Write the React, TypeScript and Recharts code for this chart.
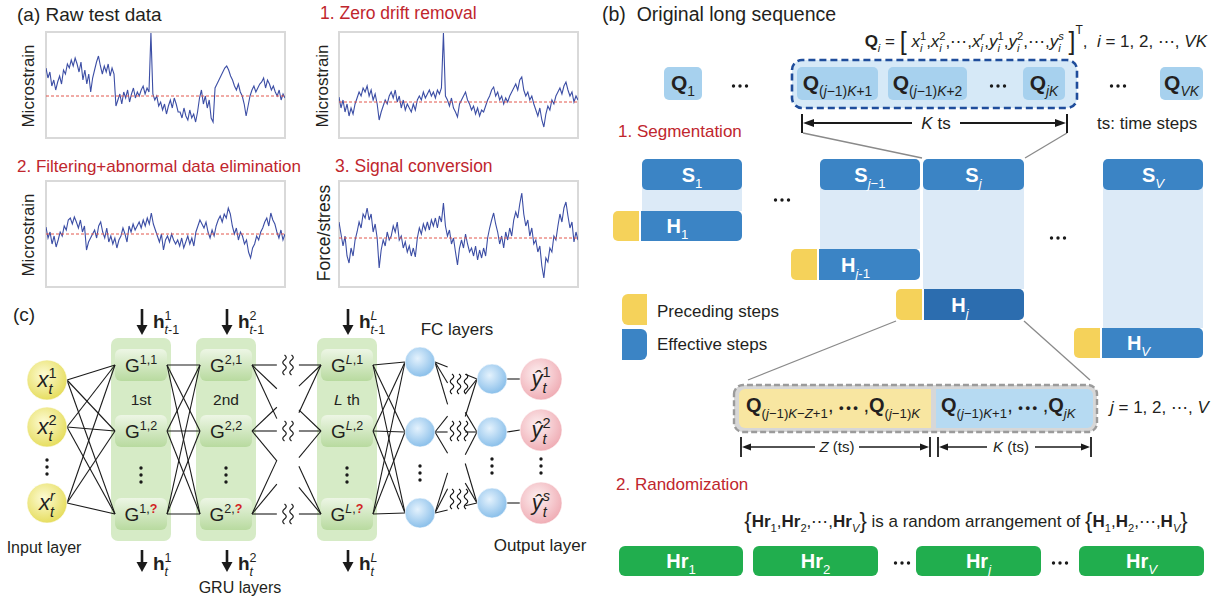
import React from 'react';
import {
  ComposedChart, LineChart, Line, XAxis, YAxis, ReferenceArea, ReferenceLine, ReferenceDot, Rectangle,
} from 'recharts';

// ---------------- signal data ----------------
const rawStrain = [28, 18, 24, 10, 16, 6, 14, 20, 12, 26, 22, 32, 28, 36, 30, 38, 32, 24, 34, 16, 26, 12, 22, 4, 18, 26, 34, 40, 30, 22, 30, 24, 32, 20, 28, 22, -10, -4, 2, -8, 4, -2, 6, -6, 2, 8, -2, 4, 0, 6, 10, 2, 8, 4, 63, 2, -4, 0, -10, -6, -14, -8, -18, -10, -4, -12, -2, -8, -16, -16, -22, -12, -20, -24, -14, -22, -18, -26, -16, -2, 6, -8, 0, -12, -4, -22, -26, 8, 12, 16, 20, 24, 28, 30, 26, 20, 16, 10, 6, 12, 4, 0, -8, -20, -10, 0, 6, 10, 4, 8, 12, 14, 18, 8, 16, 12, 6, 10, 4, 0, 6, -4, 2, -2];
const driftRemovedStrain = [5, -6, 2, -10, -2, -14, -6, -12, -2, 4, 10, 6, 14, 10, 16, 6, 12, 2, 8, -2, -18, -10, -4, 2, -2, 6, 10, 4, 12, 0, 6, -6, 2, -8, -2, -6, -10, -2, -8, 2, 6, 2, 10, 4, 8, 12, 6, 10, 4, 12, 8, 14, 69, 6, 2, -4, 4, -6, -10, -15, -2, 2, 6, 10, 2, -2, -8, -4, -12, -6, -14, -8, -10, -4, 2, 6, 12, 15, 6, 10, 2, 6, -2, 4, 0, 6, 10, 14, 18, 12, 22, 25, 12, 6, 10, 2, 6, -2, -8, -14, -6, -18, -25, -12, -4, -8, 2, -2, 6, 10, 14, 8, 16, 20, 12, 6, 10, 0, 6, 2];
const filteredStrain = [7, -4, 2, -10, -2, -13, -6, 2, -2, 8, 4, 14, 16, 10, 17, 12, 6, 14, 2, 8, -16, -8, -4, 0, 4, -4, 8, 12, 2, -4, 6, -8, -2, -10, -4, -14, -6, -2, 6, 0, -8, 8, 2, 10, 4, 8, 12, 6, 14, 8, 16, 10, 21, 10, 4, -2, -8, 0, -16, -6, -2, -8, 0, -6, -10, -6, -12, -4, -14, -8, -2, -10, -4, -12, 2, 8, 14, 10, 6, 12, 2, -4, 4, -2, 8, 14, 18, 12, 20, 16, 26, 20, 8, 0, 6, -6, 2, -2, -10, -6, -18, -24, -14, -10, -2, -6, 2, 6, 12, 16, 8, 21, 14, 10, 2, -4, 4, -6, 0];
const forceStress = [16, 4, -8, 2, -18, -25, -10, -18, -2, 6, 16, 10, 24, 20, 30, 18, 24, 6, 14, 0, -30, -12, -2, -8, 6, -2, 2, 12, 6, 16, -2, 2, -10, -4, -14, -8, -18, -10, -19, 0, 10, 4, 14, 8, 16, 8, 18, 12, 20, 10, 22, 16, 35, 12, 2, 8, -6, 0, -14, -27, -10, -2, -10, 4, -6, -14, -10, -18, -8, -22, -12, -20, -10, -18, 0, 10, 18, 25, 14, 6, -6, 2, -10, 6, -2, 10, 2, 18, 26, 20, 34, 45, 24, 12, 18, 2, 10, -6, -2, -14, -8, -28, -40, -20, -24, -10, -14, 2, -2, 12, 24, 16, 30, 36, 22, 10, 16, -4, 6, -2];

// ---------------- diagram data (diagram coordinate space 1217 x 596) ----------------
const inputYs = [380, 427, 503];
const inputSups = ['1', '2', '|r|'];
const gruXs = [141, 226, 347];
const gruLayerSups = ['1', '2', '|L|'];
const gruLayerNames = ['1st', '2nd', '|L| th'];
const gruYs = [365, 431, 514];
const fc1Ys = [362, 432, 513];
const fc2Ys = [379, 432, 503];
const outYs = [379, 430, 503];
const outSups = ['1', '2', '|s|'];

const qBoxes = [
  { x1: 664, x2: 702, sub: '1' },
  { x1: 797, x2: 878, sub: '(|j|−1)|K|+1' },
  { x1: 888, x2: 967, sub: '(|j|−1)|K|+2' },
  { x1: 1023, x2: 1065, sub: '|jK|' },
  { x1: 1160, x2: 1203, sub: '|VK|' },
];
const segCols = [
  { x1: 642, x2: 742, yx1: 613, hy1: 211, hy2: 241, sSub: '1', hSub: '1', dark: false },
  { x1: 820, x2: 920, yx1: 791, hy1: 249, hy2: 280, sSub: '|j|−1', hSub: '|j|-1', dark: false },
  { x1: 923, x2: 1024, yx1: 896, hy1: 289, hy2: 320, sSub: '|j|', hSub: '|j|', dark: true },
  { x1: 1103, x2: 1203, yx1: 1074, hy1: 328, hy2: 358, sSub: '|V|', hSub: '|V|', dark: false },
];
const greenBoxes = [
  { x1: 619, x2: 743, sub: '1' },
  { x1: 753, x2: 878, sub: '2' },
  { x1: 916, x2: 1041, sub: '|j|' },
  { x1: 1079, x2: 1204, sub: '|V|' },
];

const FONT = '"Liberation Sans", Arial, Helvetica, sans-serif';
const INK = '#231f20';
const RED = '#c0262d';

type Piece = { t: string; b?: boolean; i?: boolean; s?: 'sub' | 'sup'; stack?: boolean; c?: string; fs?: number; dy?: number };
const N = (t: string, o: Partial<Piece> = {}): Piece => ({ t, ...o });
const I = (t: string, o: Partial<Piece> = {}): Piece => ({ t, i: true, ...o });
const B = (t: string, o: Partial<Piece> = {}): Piece => ({ t, b: true, ...o });
const mix = (str: string, o: Partial<Piece> = {}): Piece[] =>
  str.split('|').map((t, k) => ({ t, i: k % 2 === 1, ...o })).filter((p) => p.t.length > 0);
const SUB = (str: string, o: Partial<Piece> = {}) => mix(str, { s: 'sub', ...o });
const SUP = (str: string, o: Partial<Piece> = {}) => mix(str, { s: 'sup', ...o });
const stacked = (arr: Piece[]) => arr.map((p, k) => (k === 0 ? { ...p, stack: true } : p));

let measureCtx: CanvasRenderingContext2D | null = null;
function textWidth(t: string, size: number, bold?: boolean, italic?: boolean) {
  if (!measureCtx) measureCtx = document.createElement('canvas').getContext('2d');
  if (!measureCtx) return t.length * size * 0.55;
  measureCtx.font = `${italic ? 'italic ' : ''}${bold ? 'bold ' : ''}${size}px "Liberation Sans", Arial, sans-serif`;
  return measureCtx.measureText(t).width;
}

function RichText({ x, y, fs, pieces, anchor = 'start', color = INK, rotate = 0 }: any) {
  let cur = 0, runStart = 0, runMax = 0, inScript = false;
  const laid: { p: Piece; x: number; dy: number; size: number }[] = [];
  for (const p of pieces as Piece[]) {
    const script = !!p.s;
    if (script) {
      if (!inScript) { runStart = cur; runMax = cur; inScript = true; }
      else if (p.stack) cur = runStart;
    } else if (inScript) { cur = runMax; inScript = false; }
    const size = p.fs ?? (script ? fs * 0.66 : fs);
    const dy = p.dy ?? (p.s === 'sub' ? fs * 0.3 : p.s === 'sup' ? -fs * 0.42 : 0);
    laid.push({ p, x: cur, dy, size });
    cur += textWidth(p.t, size, p.b, p.i);
    if (script) runMax = Math.max(runMax, cur);
  }
  const total = inScript ? Math.max(cur, runMax) : cur;
  const shift = anchor === 'middle' ? -total / 2 : anchor === 'end' ? -total : 0;
  return (
    <g transform={rotate ? `rotate(${rotate} ${x} ${y})` : undefined}>
      {laid.map((l, k) => (
        <text key={k} x={x + shift + l.x} y={y + l.dy} fontSize={l.size} fontFamily={FONT}
          fontWeight={l.p.b ? 700 : 400} fontStyle={l.p.i ? 'italic' : 'normal'} fill={l.p.c ?? color}
          style={{ whiteSpace: 'pre' }}>{l.p.t}</text>
      ))}
    </g>
  );
}

// ---------------- layout built from the data ----------------
type Box = { k: string; x1: number; x2: number; y1: number; y2: number };
const BOX_STYLE: Record<string, { fill: string; radius: any; stroke?: string; dash?: string; sw?: number }> = {
  gruBg: { fill: '#d6ebc6', radius: 7 },
  gruNode: { fill: 'url(#gNode)', radius: 6 },
  qGroup: { fill: '#d6e9f7', radius: 10, stroke: '#1f4d9b', dash: '7 4', sw: 2.6 },
  qBox: { fill: '#a7d1ee', radius: 5 },
  segLight: { fill: '#dceaf7', radius: 0 },
  seg: { fill: '#3b84c5', radius: 5 },
  hBlue: { fill: '#3b84c5', radius: [0, 5, 5, 0] },
  hBlueDark: { fill: '#2c6daf', radius: [0, 5, 5, 0] },
  hYellow: { fill: '#f5d25a', radius: [5, 0, 0, 5] },
  legYellow: { fill: '#f5d25a', radius: [6, 0, 0, 6] },
  legBlue: { fill: '#3b84c5', radius: [0, 6, 6, 0] },
  zoomFrame: { fill: '#d7d7d7', radius: 9, stroke: '#9b9b9b', dash: '6 3', sw: 2.4 },
  zoomYellow: { fill: '#f8e6a1', radius: [6, 0, 0, 6] },
  zoomBlue: { fill: '#b6daf2', radius: [0, 6, 6, 0] },
  green: { fill: '#21ae4e', radius: 6 },
};

const boxes: Box[] = [
  ...gruXs.map((x) => ({ k: 'gruBg', x1: x - 30, x2: x + 30, y1: 338, y2: 541 })),
  ...gruXs.flatMap((x) => gruYs.map((y) => ({ k: 'gruNode', x1: x - 26, x2: x + 26, y1: y - 16, y2: y + 16 }))),
  { k: 'qGroup', x1: 792, x2: 1077, y1: 60, y2: 108 },
  ...qBoxes.map((q) => ({ k: 'qBox', x1: q.x1, x2: q.x2, y1: 67, y2: 100 })),
  ...segCols.map((c) => ({ k: 'segLight', x1: c.x1, x2: c.x2, y1: 180, y2: c.hy1 })),
  ...segCols.map((c) => ({ k: 'seg', x1: c.x1, x2: c.x2, y1: 159, y2: 190 })),
  ...segCols.map((c) => ({ k: 'hYellow', x1: c.yx1, x2: c.yx1 + 26, y1: c.hy1, y2: c.hy2 })),
  ...segCols.map((c) => ({ k: c.dark ? 'hBlueDark' : 'hBlue', x1: c.yx1 + 28, x2: c.x2, y1: c.hy1, y2: c.hy2 })),
  { k: 'legYellow', x1: 622, x2: 647, y1: 294, y2: 325 },
  { k: 'legBlue', x1: 622, x2: 647, y1: 329, y2: 360 },
  { k: 'zoomFrame', x1: 734, x2: 1097, y1: 385, y2: 432 },
  { k: 'zoomYellow', x1: 739, x2: 931, y1: 389, y2: 428 },
  { k: 'zoomBlue', x1: 936, x2: 1093, y1: 389, y2: 428 },
  ...greenBoxes.map((g) => ({ k: 'green', x1: g.x1, x2: g.x2, y1: 546, y2: 576 })),
];

type Seg = { x1: number; y1: number; x2: number; y2: number; c: string; w: number };
const DARK = '#1a1a1a';
const part = (x1: number, y1: number, x2: number, y2: number, t0: number, t1: number, w = 1.1): Seg => ({
  x1: x1 + (x2 - x1) * t0, y1: y1 + (y2 - y1) * t0, x2: x1 + (x2 - x1) * t1, y2: y1 + (y2 - y1) * t1, c: DARK, w,
});
const lines: Seg[] = [];
inputYs.forEach((a) => gruYs.forEach((b) => lines.push(part(67, a, gruXs[0] - 26, b, 0, 1))));
gruYs.forEach((a) => gruYs.forEach((b) => lines.push(part(gruXs[0] + 26, a, gruXs[1] - 26, b, 0, 1))));
gruYs.forEach((a) => gruYs.forEach((b) => {
  lines.push(part(gruXs[1] + 26, a, gruXs[2] - 26, b, 0, 0.36));
  lines.push(part(gruXs[1] + 26, a, gruXs[2] - 26, b, 0.68, 1));
}));
gruYs.forEach((a) => fc1Ys.forEach((b) => lines.push(part(gruXs[2] + 26, a, 405, b, 0, 1))));
fc1Ys.forEach((a) => fc2Ys.forEach((b) => {
  lines.push(part(435, a, 477, b, 0, 0.3));
  lines.push(part(435, a, 477, b, 0.72, 1));
}));
fc2Ys.forEach((a, k) => lines.push(part(507, a, 520, outYs[k], 0, 1)));
gruXs.forEach((x) => {
  lines.push({ x1: x + 1, y1: 309, x2: x + 1, y2: 327, c: DARK, w: 2.6 });
  lines.push({ x1: x + 1, y1: 550, x2: x + 1, y2: 563, c: DARK, w: 2.6 });
});
const GRAY = '#8a8a8a';
lines.push(
  { x1: 803, y1: 133, x2: 922, y2: 158, c: GRAY, w: 1.3 },
  { x1: 1067, y1: 133, x2: 1025, y2: 158, c: GRAY, w: 1.3 },
  { x1: 896, y1: 321, x2: 748, y2: 380, c: GRAY, w: 1.3 },
  { x1: 1024, y1: 321, x2: 1090, y2: 380, c: GRAY, w: 1.3 },
  { x1: 808, y1: 123, x2: 912, y2: 123, c: DARK, w: 1.8 },
  { x1: 960, y1: 123, x2: 1062, y2: 123, c: DARK, w: 1.8 },
  { x1: 802, y1: 114, x2: 802, y2: 133, c: DARK, w: 2 },
  { x1: 1067, y1: 114, x2: 1067, y2: 133, c: DARK, w: 2 },
  { x1: 746, y1: 447, x2: 815, y2: 447, c: DARK, w: 1.5 },
  { x1: 859, y1: 447, x2: 925, y2: 447, c: DARK, w: 1.5 },
  { x1: 943, y1: 447, x2: 987, y2: 447, c: DARK, w: 1.5 },
  { x1: 1035, y1: 447, x2: 1086, y2: 447, c: DARK, w: 1.5 },
  { x1: 741, y1: 437, x2: 741, y2: 457, c: DARK, w: 1.8 },
  { x1: 930, y1: 437, x2: 930, y2: 457, c: DARK, w: 1.8 },
  { x1: 938, y1: 437, x2: 938, y2: 457, c: DARK, w: 1.8 },
  { x1: 1091, y1: 437, x2: 1091, y2: 457, c: DARK, w: 1.8 },
);

const arrowHeads = [
  ...gruXs.flatMap((x) => [{ x: x + 1, y: 335, dir: 'down', l: 10, w: 11 }, { x: x + 1, y: 572, dir: 'down', l: 10, w: 11 }]),
  { x: 803, y: 123, dir: 'left', l: 11, w: 8 },
  { x: 1066, y: 123, dir: 'right', l: 11, w: 8 },
  { x: 742, y: 447, dir: 'left', l: 9, w: 7 },
  { x: 929, y: 447, dir: 'right', l: 9, w: 7 },
  { x: 939, y: 447, dir: 'left', l: 9, w: 7 },
  { x: 1090, y: 447, dir: 'right', l: 9, w: 7 },
];

const circles = [
  ...inputYs.map((y) => ({ x: 47, y, r: 20, fill: 'url(#gIn)' })),
  ...fc1Ys.map((y) => ({ x: 420, y, r: 15, fill: 'url(#gFc)' })),
  ...fc2Ys.map((y) => ({ x: 492, y, r: 15, fill: 'url(#gFc)' })),
  ...outYs.map((y) => ({ x: 541, y, r: 21, fill: 'url(#gOut)' })),
];

const dotRows = [
  { x: 740, y: 86, v: false }, { x: 998, y: 86, v: false }, { x: 1118, y: 86, v: false },
  { x: 782, y: 200, v: false }, { x: 1058, y: 238, v: false },
  { x: 902, y: 563, v: false }, { x: 1060, y: 563, v: false },
  { x: 47, y: 467, v: true }, { x: 141, y: 475, v: true }, { x: 226, y: 475, v: true }, { x: 347, y: 475, v: true },
  { x: 420, y: 473, v: true }, { x: 492, y: 466, v: true }, { x: 541, y: 466, v: true },
];

const wiggles = [
  ...gruYs.map((y) => ({ x: 288, y, n: 2 })),
  ...[384, 431, 499].map((y) => ({ x: 459, y, n: 3 })),
];

const xi = (base: string, sup: string): Piece[] => [I(base), ...SUB('|i|'), ...stacked(SUP(sup))];
const BR = { fs: 25, dy: 3 };
const formula: Piece[] = [
  B('Q'), ...SUB('|i|'), N(' = '), N('[', BR), N(' '),
  ...xi('x', '1'), N(','), ...xi('x', '2'), N(','), N('⋯'), N(','), ...xi('x', '|r|'), N(','),
  ...xi('y', '1'), N(','), ...xi('y', '2'), N(','), N('⋯'), N(','), ...xi('y', '|s|'), N(' '),
  N(']', BR), N('T', { s: 'sup', dy: -13, fs: 12 }), N(',  '), I('i'), N(' = 1, 2, ⋯, '), I('VK'),
];
const DOTS = N('•\u2009•\u2009•', { fs: 13, b: true });
const BRACE = { fs: 22, dy: 1 };

type TextItem = { x: number; y: number; fs: number; p: Piece[]; anchor?: string; color?: string; rotate?: number };
const texts: TextItem[] = [
  // (a)
  { x: 17, y: 21, fs: 19, p: [N('(a) Raw test data')] },
  { x: 320, y: 19, fs: 17.5, color: RED, p: [N('1. Zero drift removal')] },
  { x: 17, y: 172, fs: 17, color: RED, p: [N('2. Filtering+abnormal data elimination')] },
  { x: 335, y: 172, fs: 17.5, color: RED, p: [N('3. Signal conversion')] },
  { x: 34, y: 86, fs: 17, anchor: 'middle', rotate: -90, p: [N('Microstrain')] },
  { x: 328, y: 86, fs: 17, anchor: 'middle', rotate: -90, p: [N('Microstrain')] },
  { x: 34, y: 235, fs: 17, anchor: 'middle', rotate: -90, p: [N('Microstrain')] },
  { x: 330, y: 233, fs: 17.5, anchor: 'middle', rotate: -90, p: [N('Force/stress')] },
  // (c)
  { x: 13, y: 321, fs: 19, p: [N('(c)')] },
  ...inputYs.map((y, k) => ({ x: 47, y: y + 7, fs: 22, anchor: 'middle', p: [I('x'), ...SUP(inputSups[k]), ...stacked(SUB('|t|'))] })),
  ...outYs.map((y, k) => ({ x: 541, y: y + 7, fs: 22, anchor: 'middle', p: [I('ŷ'), ...SUP(outSups[k]), ...stacked(SUB('|t|'))] })),
  ...gruXs.flatMap((x, li) => gruYs.map((y, nj) => ({
    x, y: y + 7, fs: 19, anchor: 'middle',
    p: [N('G'), ...SUP(`${gruLayerSups[li]},`), ...(nj < 2 ? SUP(String(nj + 1)) : [N('?', { s: 'sup', b: true, c: '#d21f26' })])],
  }))),
  ...gruXs.map((x, li) => ({ x, y: 405, fs: 15.5, anchor: 'middle', p: mix(gruLayerNames[li]) })),
  ...gruXs.map((x, li) => ({ x: x + 12, y: 328, fs: 19, p: [B('h'), ...SUP(gruLayerSups[li]), ...stacked(SUB('|t|-1'))] })),
  ...gruXs.map((x, li) => ({ x: x + 12, y: 570, fs: 19, p: [B('h'), ...SUP(gruLayerSups[li]), ...stacked(SUB('|t|'))] })),
  { x: 44, y: 553, fs: 16, anchor: 'middle', p: [N('Input layer')] },
  { x: 240, y: 593, fs: 16, anchor: 'middle', p: [N('GRU layers')] },
  { x: 457, y: 335, fs: 17, anchor: 'middle', p: [N('FC layers')] },
  { x: 540, y: 551, fs: 17, anchor: 'middle', p: [N('Output layer')] },
  // (b)
  { x: 602, y: 21, fs: 19.5, p: [N('(b)  Original long sequence')] },
  { x: 1207, y: 47, fs: 17, anchor: 'end', p: formula },
  ...qBoxes.map((q) => ({ x: (q.x1 + q.x2) / 2, y: 90, fs: 21, anchor: 'middle', p: [B('Q'), ...SUB(q.sub)] })),
  { x: 936, y: 129, fs: 17, anchor: 'middle', p: [I('K'), N(' ts')] },
  { x: 1097, y: 129, fs: 17, p: [N('ts: time steps')] },
  { x: 618, y: 137, fs: 17, color: RED, p: [N('1. Segmentation')] },
  ...segCols.map((c) => ({ x: (c.x1 + c.x2) / 2, y: 182, fs: 20, anchor: 'middle', color: '#ffffff', p: [B('S'), ...SUB(c.sSub)] })),
  ...segCols.map((c) => ({ x: (c.yx1 + c.x2) / 2, y: (c.hy1 + c.hy2) / 2 + 7, fs: 20, anchor: 'middle', color: '#ffffff', p: [B('H'), ...SUB(c.hSub)] })),
  { x: 657, y: 317, fs: 17, p: [N('Preceding steps')] },
  { x: 657, y: 350, fs: 17, p: [N('Effective steps')] },
  { x: 746, y: 412, fs: 20, p: [B('Q'), ...SUB('(|j|−1)|K|−|Z|+1'), N(', '), DOTS, N(' ,'), B('Q'), ...SUB('(|j|−1)|K|')] },
  { x: 941, y: 412, fs: 20, p: [B('Q'), ...SUB('(|j|−1)|K|+1'), N(', '), DOTS, N(' ,'), B('Q'), ...SUB('|jK|')] },
  { x: 1110, y: 413, fs: 17, p: mix('|j| = 1, 2, ⋯, |V|') },
  { x: 837, y: 452, fs: 15, anchor: 'middle', p: [I('Z'), N(' (ts)')] },
  { x: 1011, y: 452, fs: 15, anchor: 'middle', p: [I('K'), N(' (ts)')] },
  { x: 616, y: 490, fs: 17, color: RED, p: [N('2. Randomization')] },
  {
    x: 966, y: 527, fs: 17, anchor: 'middle', p: [
      N('{', BRACE), B('Hr'), ...SUB('1'), N(','), B('Hr'), ...SUB('2'), N(',⋯,'), B('Hr'), ...SUB('|V|'), N('}', BRACE),
      N(' is a random arrangement of '),
      N('{', BRACE), B('H'), ...SUB('1'), N(','), B('H'), ...SUB('2'), N(',⋯,'), B('H'), ...SUB('|V|'), N('}', BRACE),
    ],
  },
  ...greenBoxes.map((g) => ({ x: (g.x1 + g.x2) / 2, y: 568, fs: 20, anchor: 'middle', color: '#ffffff', p: [B('Hr'), ...SUB(g.sub)] })),
];

const signalPanels = [
  { values: rawStrain, left: 46, top: 32, domain: [-42, 64] },
  { values: driftRemovedStrain, left: 339, top: 32, domain: [-36, 70] },
  { values: filteredStrain, left: 46, top: 181, domain: [-53, 53] },
  { values: forceStress, left: 339, top: 181, domain: [-49, 57] },
];
const frameData = [{ x: 0 }, { x: 1217 }];

function arrowPoints(cx: number, cy: number, dir: string, l: number, w: number) {
  if (dir === 'down') return `${cx},${cy} ${cx - w / 2},${cy - l} ${cx + w / 2},${cy - l}`;
  if (dir === 'left') return `${cx},${cy} ${cx + l},${cy - w / 2} ${cx + l},${cy + w / 2}`;
  return `${cx},${cy} ${cx - l},${cy - w / 2} ${cx - l},${cy + w / 2}`;
}

function wigglePath(cx: number, cy: number, n: number) {
  let d = '';
  for (let k = 0; k < n; k++) {
    const sx = cx + (k - (n - 1) / 2) * 7;
    d += `M${sx},${cy - 10} q3.5,2.5 0,5 q-3.5,2.5 0,5 q3.5,2.5 0,5 q-3.5,2.5 0,5 `;
  }
  return d;
}

function SignalPlot({ values, domain }: { values: number[]; domain: number[] }) {
  const data = values.map((v, i) => ({ i, v }));
  return (
    <LineChart width={243} height={110} data={data} margin={{ top: 2, right: 2, bottom: 2, left: 2 }}>
      <XAxis type="number" dataKey="i" domain={[0, values.length - 1]} hide allowDataOverflow />
      <YAxis type="number" domain={domain} hide allowDataOverflow />
      <ReferenceArea x1={0} x2={values.length - 1} y1={domain[0]} y2={domain[1]} ifOverflow="visible"
        shape={(p: any) => <rect x={p.x} y={p.y} width={p.width} height={p.height} fill="none" stroke="#d9d9d9" strokeWidth={2} />} />
      <Line type="linear" dataKey="v" stroke="#3c4ea5" strokeWidth={1.1} dot={false} isAnimationActive={false} />
      <ReferenceLine y={0} stroke="#e2574c" strokeDasharray="3 2" strokeWidth={1} ifOverflow="visible" />
    </LineChart>
  );
}

export default function App() {
  return (
    <div style={{ position: 'absolute', left: 0, top: 0, width: 1217, height: 596, background: '#ffffff', overflow: 'hidden' }}>
      <div style={{ position: 'absolute', left: 0, top: 0 }}>
        <ComposedChart width={1217} height={596} data={frameData} margin={{ top: 0, right: 0, bottom: 0, left: 0 }}>
          <defs>
            <linearGradient id="gNode" x1="0" y1="0" x2="0" y2="1">
              <stop offset="0" stopColor="#edf6e5" />
              <stop offset="1" stopColor="#b8da9f" />
            </linearGradient>
            <radialGradient id="gIn" cx="0.42" cy="0.38" r="0.65">
              <stop offset="0" stopColor="#fdfbd4" />
              <stop offset="1" stopColor="#e5dc5a" />
            </radialGradient>
            <radialGradient id="gFc" cx="0.42" cy="0.38" r="0.65">
              <stop offset="0" stopColor="#e4f2fd" />
              <stop offset="1" stopColor="#86bde9" />
            </radialGradient>
            <radialGradient id="gOut" cx="0.42" cy="0.38" r="0.65">
              <stop offset="0" stopColor="#fdf0f1" />
              <stop offset="1" stopColor="#efabb3" />
            </radialGradient>
          </defs>
          <XAxis type="number" dataKey="x" domain={[0, 1217]} hide allowDataOverflow />
          <YAxis type="number" domain={[0, 596]} reversed hide allowDataOverflow />
          {boxes.map((b, k) => {
            const st = BOX_STYLE[b.k];
            return (
              <ReferenceArea key={`b${k}`} x1={b.x1} x2={b.x2} y1={b.y1} y2={b.y2} ifOverflow="visible"
                shape={(p: any) => (
                  <Rectangle x={p.x} y={p.y} width={p.width} height={p.height} radius={st.radius} fill={st.fill}
                    fillOpacity={1} stroke={st.stroke ?? 'none'} strokeWidth={st.sw ?? 0} strokeDasharray={st.dash} />
                )} />
            );
          })}
          {lines.map((l, k) => (
            <ReferenceLine key={`l${k}`} segment={[{ x: l.x1, y: l.y1 }, { x: l.x2, y: l.y2 }]} stroke={l.c} strokeWidth={l.w} ifOverflow="visible" />
          ))}
          {circles.map((c, k) => (
            <ReferenceDot key={`c${k}`} x={c.x} y={c.y} r={c.r} ifOverflow="visible"
              shape={(p: any) => <circle cx={p.cx} cy={p.cy} r={c.r} fill={c.fill} stroke="#ffffff" strokeWidth={0.6} />} />
          ))}
          {arrowHeads.map((a, k) => (
            <ReferenceDot key={`a${k}`} x={a.x} y={a.y} r={1} ifOverflow="visible"
              shape={(p: any) => <polygon points={arrowPoints(p.cx, p.cy, a.dir, a.l, a.w)} fill={DARK} />} />
          ))}
          {wiggles.map((w, k) => (
            <ReferenceDot key={`w${k}`} x={w.x} y={w.y} r={1} ifOverflow="visible"
              shape={(p: any) => <path d={wigglePath(p.cx, p.cy, w.n)} fill="none" stroke={DARK} strokeWidth={1.2} />} />
          ))}
          {dotRows.map((d, k) => (
            <ReferenceDot key={`d${k}`} x={d.x} y={d.y} r={1} ifOverflow="visible"
              shape={(p: any) => (
                <g fill={DARK}>
                  {[-1, 0, 1].map((o) => (
                    <circle key={o} cx={d.v ? p.cx : p.cx + o * 6.5} cy={d.v ? p.cy + o * 7 : p.cy} r={1.7} />
                  ))}
                </g>
              )} />
          ))}
          {texts.map((t, k) => (
            <ReferenceDot key={`t${k}`} x={t.x} y={t.y} r={1} ifOverflow="visible"
              shape={(p: any) => (
                <RichText x={p.cx} y={p.cy} fs={t.fs} pieces={t.p} anchor={t.anchor ?? 'start'} color={t.color ?? INK} rotate={t.rotate ?? 0} />
              )} />
          ))}
        </ComposedChart>
      </div>
      {signalPanels.map((s, k) => (
        <div key={k} style={{ position: 'absolute', left: s.left - 2, top: s.top - 2 }}>
          <SignalPlot values={s.values} domain={s.domain} />
        </div>
      ))}
    </div>
  );
}
